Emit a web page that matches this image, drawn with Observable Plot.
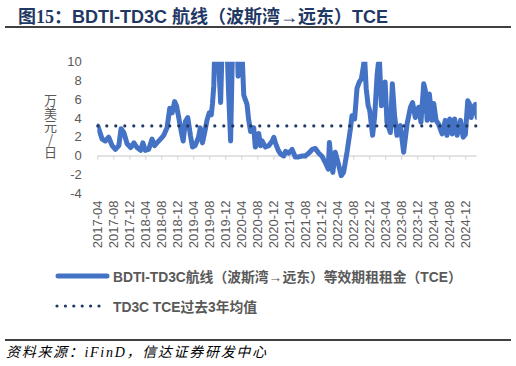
<!DOCTYPE html>
<html><head><meta charset="utf-8">
<script src="https://cdn.jsdelivr.net/npm/d3@7"></script>
<script src="https://cdn.jsdelivr.net/npm/@observablehq/plot@0.6"></script>
<style>
body{margin:0;width:516px;height:366px;position:relative;background:#fff;overflow:hidden;font-family:"Liberation Sans",Arial,"Noto Sans CJK SC",sans-serif;}
#title{position:absolute;left:18px;top:2px;font-size:18px;font-weight:bold;color:#1F3864;white-space:nowrap;font-family:"Liberation Sans",Arial,"Noto Sans CJK SC",sans-serif;}
#title .num{font-family:"Liberation Serif","Noto Sans CJK SC",serif;}
.rule{position:absolute;left:5px;width:506px;height:2px;background:#404040;}
#chart{position:absolute;left:0;top:40px;}
#ylab{position:absolute;left:42px;top:94px;writing-mode:vertical-rl;text-orientation:upright;font-size:13px;line-height:16px;color:#595959;font-family:"Noto Sans CJK SC",sans-serif;}
.leg{position:absolute;left:55px;height:20px;display:flex;align-items:center;white-space:nowrap;font-size:13.8px;font-weight:bold;color:#595959;}
.leg svg{margin-right:2px;}
#source{position:absolute;left:6px;top:341px;font-size:14px;letter-spacing:1.7px;font-style:italic;color:#000;white-space:nowrap;font-family:"Liberation Serif","Noto Sans CJK SC",serif;}
</style></head>
<body>
<div id="title"><span class="num">图15：</span>BDTI-TD3C 航线（波斯湾→远东）TCE</div>
<div class="rule" style="top:26px"></div>
<div id="chart"></div>
<div id="ylab">万美元/日</div>
<div class="leg" style="top:266px"><svg width="56" height="8"><line x1="3" y1="4" x2="52" y2="4" stroke="#4472C4" stroke-width="5" stroke-linecap="round"/></svg><span id="leg1"></span></div>
<div class="leg" style="top:296px"><svg width="56" height="8"><line x1="2" y1="4" x2="44" y2="4" stroke="#1F3864" stroke-width="3.2" stroke-linecap="round" stroke-dasharray="0 8.4"/></svg><span id="leg2"></span></div>
<div class="rule" style="top:339px"></div>
<div id="source">资料来源：iFinD，信达证券研发中心</div>
<script>
const seriesNames = ["BDTI-TD3C航线（波斯湾→远东）等效期租租金（TCE）", "TD3C TCE过去3年均值"];
const dates = [
"2017-04-01","2017-05-04","2017-05-28","2017-06-23","2017-07-19","2017-08-13","2017-09-08","2017-09-25","2017-10-16","2017-11-10",
"2017-12-07","2018-01-01","2018-01-25","2018-02-21","2018-03-10","2018-03-28","2018-04-23","2018-05-19","2018-06-07","2018-06-25",
"2018-07-22","2018-08-16","2018-09-10","2018-10-01","2018-10-19","2018-11-07","2018-11-22","2018-12-08","2018-12-26","2019-01-11",
"2019-01-28","2019-02-15","2019-03-07","2019-03-23","2019-04-12","2019-05-08","2019-05-21","2019-06-07","2019-06-25","2019-07-11",
"2019-07-28","2019-08-13","2019-08-22","2019-09-01","2019-09-13","2019-10-01","2019-10-23","2019-11-06","2019-11-25","2019-12-10",
"2019-12-22","2020-01-07","2020-01-22","2020-02-10","2020-02-25","2020-03-04","2020-03-16","2020-04-03","2020-04-16","2020-04-28",
"2020-05-11","2020-05-23","2020-06-07","2020-06-19","2020-07-01","2020-07-13","2020-07-26","2020-08-08","2020-08-22","2020-09-03",
"2020-09-28","2020-10-23","2020-11-19","2020-12-01","2020-12-13","2021-01-04","2021-01-22","2021-02-15","2021-02-28","2021-03-23",
"2021-04-19","2021-05-13","2021-06-08","2021-07-04","2021-07-28","2021-08-23","2021-09-19","2021-10-13","2021-11-08","2021-12-04",
"2021-12-28","2022-01-19","2022-01-28","2022-02-13","2022-02-23","2022-03-13","2022-04-04","2022-04-28","2022-05-16","2022-06-11",
"2022-07-07","2022-07-19","2022-08-08","2022-08-26","2022-09-13","2022-09-28","2022-10-11","2022-10-23","2022-11-04","2022-11-19",
"2022-12-01","2022-12-13","2022-12-23","2023-01-08","2023-01-26","2023-02-04","2023-02-13","2023-02-22","2023-02-28","2023-03-16",
"2023-03-28","2023-04-11","2023-05-07","2023-05-22","2023-06-08","2023-06-26","2023-07-22","2023-08-16","2023-09-11","2023-10-07",
"2023-10-23","2023-11-13","2023-12-08","2023-12-26","2024-01-16","2024-01-28","2024-02-11","2024-02-28","2024-03-19","2024-04-01",
"2024-04-19","2024-05-08","2024-06-04","2024-06-28","2024-07-11","2024-08-01","2024-08-19","2024-09-07","2024-09-26","2024-10-22",
"2024-11-11","2024-11-28","2024-12-16","2024-12-28","2025-01-11","2025-01-26","2025-02-13","2025-02-26"];
const tce = [
3.2,1.8,1.6,2.0,1.1,0.7,1.1,2.9,2.5,1.3,
0.9,1.4,0.9,0.6,1.4,0.6,0.7,1.8,1.1,1.4,
1.8,2.2,3.0,5.1,4.6,5.8,5.3,4.1,2.7,1.6,
3.7,4.1,2.2,0.95,1.1,2.0,3.0,1.4,2.6,3.8,
4.6,4.4,5.6,7.5,14,12,5.7,13,11,12,
7.0,1.6,12,16,13,8.5,14,11,6.5,6.0,
5.5,3.9,2.6,3.0,3.0,0.95,1.3,2.4,1.1,1.6,
0.95,1.1,1.6,2.0,1.4,0.6,0.2,0.0,0.5,0.3,
0.7,-0.1,-0.1,0.0,0.0,0.3,0.7,0.8,0.3,-0.06,
-0.7,-1.4,1.45,-1.0,-1.75,0.4,-0.7,-2.1,-1.75,0.4,
2.9,4.3,3.95,7.2,7.9,8.2,9.3,10.5,7.2,5.35,
4.85,3.4,2.2,4.3,8.6,9.8,10.2,7.2,5.35,6.1,
7.9,3.6,2.5,7.7,4.3,2.2,3.25,0.4,3.4,5.2,
5.7,4.1,5.2,3.6,7.7,7.0,3.8,6.6,3.8,5.6,
3.8,3.4,2.35,3.8,2.2,3.95,2.35,3.95,2.2,3.8,
2.0,2.3,5.9,5.6,4.1,5.2,5.5,4.1];
const avgValue = 3.2;
const yTicks = [-4,-2,0,2,4,6,8,10];
const xTickLabels = ["2017-04","2017-08","2017-12","2018-04","2018-08","2018-12","2019-04","2019-08","2019-12","2020-04","2020-08","2020-12","2021-04","2021-08","2021-12","2022-04","2022-08","2022-12","2023-04","2023-08","2023-12","2024-04","2024-08","2024-12"];

document.getElementById("leg1").textContent = seriesNames[0];
document.getElementById("leg2").textContent = seriesNames[1];

const parseDay = d3.utcParse("%Y-%m-%d");
const parseMonth = d3.utcParse("%Y-%m");
const data = dates.map((d, i) => ({date: parseDay(d), v: tce[i]}));
const xTicks = xTickLabels.map(parseMonth);
const labelOf = new Map(xTicks.map((d, i) => [+d, xTickLabels[i]]));

const chart = Plot.plot({
  width: 516, height: 220,
  marginTop: 21.7, marginBottom: 67, marginLeft: 97.3, marginRight: 39.3,
  x: {type: "utc", domain: [data[0].date, data[data.length - 1].date]},
  y: {domain: [-4, 10]},
  style: {fontFamily: "'Liberation Sans', Arial, sans-serif", fontSize: "13px", color: "#595959", background: "transparent", overflow: "visible"},
  marks: [
    Plot.axisY({ticks: yTicks, tickSize: 0, tickPadding: 16, tickFormat: d => String(d), fill: "#595959", fontSize: 13, label: null}),
    Plot.axisX({ticks: xTicks, tickSize: 0, tickPadding: 7, tickRotate: -90, tickFormat: d => labelOf.get(+d), fill: "#595959", fontSize: 13, label: null}),
    Plot.ruleY([0], {stroke: "#D9D9D9", strokeWidth: 1.5}),
    Plot.ruleX(xTicks, {y1: 0, y2: -0.45, stroke: "#D9D9D9", strokeWidth: 1.2}),
    Plot.lineY(data, {x: "date", y: "v", stroke: "#4472C4", strokeWidth: 5, strokeLinejoin: "round", strokeLinecap: "round", clip: true}),
    Plot.lineY(data, {x: "date", y: () => avgValue, stroke: "#1F3864", strokeWidth: 3.2, strokeLinecap: "round", strokeDasharray: "0 9"})
  ]
});
document.getElementById("chart").appendChild(chart);
</script>
</body></html>
